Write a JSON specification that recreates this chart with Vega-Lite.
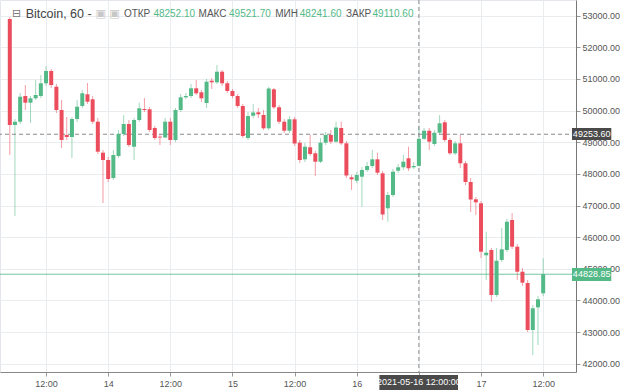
{
  "$schema": "https://vega.github.io/schema/vega-lite/v6.json",
  "width": 576,
  "height": 372,
  "autosize": "none",
  "padding": {"left": 0, "top": 0, "right": 44, "bottom": 18},
  "background": "white",
  "config": {
    "view": {"stroke": "#e3e6ea"},
    "font": "Liberation Sans",
    "axisY": {"tickCount": 12, "format": ".2f", "labelFontSize": 9, "labelColor": "#555", "labelPadding": 2, "labelOverlap": false, "tickSize": 4, "tickColor": "#999", "domainColor": "#777", "grid": true, "gridColor": "#e9edf0", "title": null}
  },
  "data": {"values": [
    {"t":"2021-05-13T05:00:00Z","o":52896,"h":52960,"l":48597,"c":49546},
    {"t":"2021-05-13T06:00:00Z","o":49546,"h":49735,"l":46669,"c":49650},
    {"t":"2021-05-13T07:00:00Z","o":49650,"h":50557,"l":49577,"c":50440},
    {"t":"2021-05-13T08:00:00Z","o":50462,"h":50810,"l":50020,"c":50251},
    {"t":"2021-05-13T09:00:00Z","o":50251,"h":50462,"l":49609,"c":50390},
    {"t":"2021-05-13T10:00:00Z","o":50390,"h":50968,"l":50336,"c":50494},
    {"t":"2021-05-13T11:00:00Z","o":50462,"h":51126,"l":50399,"c":50864},
    {"t":"2021-05-13T12:00:00Z","o":50864,"h":51411,"l":50779,"c":51253},
    {"t":"2021-05-13T13:00:00Z","o":51253,"h":51316,"l":50715,"c":50810},
    {"t":"2021-05-13T14:00:00Z","o":50756,"h":50842,"l":49925,"c":50020},
    {"t":"2021-05-13T15:00:00Z","o":50020,"h":50336,"l":48819,"c":49072},
    {"t":"2021-05-13T16:00:00Z","o":49230,"h":49799,"l":49072,"c":49166},
    {"t":"2021-05-13T17:00:00Z","o":49166,"h":49799,"l":48503,"c":49735},
    {"t":"2021-05-13T18:00:00Z","o":49735,"h":50336,"l":49640,"c":50124},
    {"t":"2021-05-13T19:00:00Z","o":50146,"h":50652,"l":50083,"c":50548},
    {"t":"2021-05-13T20:00:00Z","o":50516,"h":50873,"l":50210,"c":50282},
    {"t":"2021-05-13T21:00:00Z","o":50358,"h":50462,"l":49577,"c":49650},
    {"t":"2021-05-13T22:00:00Z","o":49650,"h":49767,"l":48629,"c":48702},
    {"t":"2021-05-13T23:00:00Z","o":48670,"h":48756,"l":47080,"c":48439},
    {"t":"2021-05-14T00:00:00Z","o":48439,"h":48534,"l":47744,"c":47839},
    {"t":"2021-05-14T01:00:00Z","o":47870,"h":48756,"l":47807,"c":48597},
    {"t":"2021-05-14T02:00:00Z","o":48566,"h":49388,"l":48503,"c":49261},
    {"t":"2021-05-14T03:00:00Z","o":49261,"h":49862,"l":49198,"c":49577},
    {"t":"2021-05-14T04:00:00Z","o":49577,"h":49704,"l":48850,"c":48913},
    {"t":"2021-05-14T05:00:00Z","o":48859,"h":49767,"l":48439,"c":49704},
    {"t":"2021-05-14T06:00:00Z","o":49704,"h":50251,"l":49640,"c":50074},
    {"t":"2021-05-14T07:00:00Z","o":50051,"h":50399,"l":49957,"c":50020},
    {"t":"2021-05-14T08:00:00Z","o":50042,"h":50115,"l":49324,"c":49388},
    {"t":"2021-05-14T09:00:00Z","o":49451,"h":49514,"l":49072,"c":49135},
    {"t":"2021-05-14T10:00:00Z","o":49176,"h":49261,"l":48913,"c":49151},
    {"t":"2021-05-14T11:00:00Z","o":49151,"h":49767,"l":49135,"c":49650},
    {"t":"2021-05-14T12:00:00Z","o":49650,"h":49767,"l":48913,"c":49072},
    {"t":"2021-05-14T13:00:00Z","o":49072,"h":50083,"l":49009,"c":50020},
    {"t":"2021-05-14T14:00:00Z","o":50020,"h":50526,"l":49957,"c":50421},
    {"t":"2021-05-14T15:00:00Z","o":50421,"h":50557,"l":50368,"c":50462},
    {"t":"2021-05-14T16:00:00Z","o":50462,"h":50842,"l":50399,"c":50706},
    {"t":"2021-05-14T17:00:00Z","o":50706,"h":50968,"l":50494,"c":50548},
    {"t":"2021-05-14T18:00:00Z","o":50579,"h":50652,"l":50273,"c":50390},
    {"t":"2021-05-14T19:00:00Z","o":50241,"h":50999,"l":50083,"c":50914},
    {"t":"2021-05-14T20:00:00Z","o":50946,"h":51031,"l":50684,"c":50895},
    {"t":"2021-05-14T21:00:00Z","o":50895,"h":51442,"l":50842,"c":51230},
    {"t":"2021-05-14T22:00:00Z","o":51230,"h":51284,"l":50779,"c":50864},
    {"t":"2021-05-14T23:00:00Z","o":50864,"h":50937,"l":50557,"c":50620},
    {"t":"2021-05-15T00:00:00Z","o":50620,"h":50684,"l":50399,"c":50462},
    {"t":"2021-05-15T01:00:00Z","o":50462,"h":50526,"l":50083,"c":50146},
    {"t":"2021-05-15T02:00:00Z","o":50146,"h":50210,"l":49135,"c":49198},
    {"t":"2021-05-15T03:00:00Z","o":49135,"h":49957,"l":49072,"c":49830},
    {"t":"2021-05-15T04:00:00Z","o":49839,"h":50210,"l":49767,"c":49941},
    {"t":"2021-05-15T05:00:00Z","o":49947,"h":50083,"l":49767,"c":49884},
    {"t":"2021-05-15T06:00:00Z","o":49862,"h":50020,"l":49388,"c":49441},
    {"t":"2021-05-15T07:00:00Z","o":49441,"h":50747,"l":49388,"c":50699},
    {"t":"2021-05-15T08:00:00Z","o":50674,"h":50715,"l":50051,"c":50105},
    {"t":"2021-05-15T09:00:00Z","o":50105,"h":50178,"l":49577,"c":49650},
    {"t":"2021-05-15T10:00:00Z","o":49650,"h":49735,"l":49293,"c":49365},
    {"t":"2021-05-15T11:00:00Z","o":49365,"h":49830,"l":49293,"c":49726},
    {"t":"2021-05-15T12:00:00Z","o":49726,"h":49799,"l":48882,"c":48961},
    {"t":"2021-05-15T13:00:00Z","o":48986,"h":49072,"l":48344,"c":48439},
    {"t":"2021-05-15T14:00:00Z","o":48461,"h":48977,"l":48376,"c":48859},
    {"t":"2021-05-15T15:00:00Z","o":48841,"h":49230,"l":48566,"c":48629},
    {"t":"2021-05-15T16:00:00Z","o":48651,"h":48724,"l":47934,"c":48385},
    {"t":"2021-05-15T17:00:00Z","o":48385,"h":49135,"l":48344,"c":48986},
    {"t":"2021-05-15T18:00:00Z","o":48986,"h":49324,"l":48913,"c":49230},
    {"t":"2021-05-15T19:00:00Z","o":49230,"h":49388,"l":48945,"c":49018},
    {"t":"2021-05-15T20:00:00Z","o":49018,"h":49650,"l":48977,"c":49467},
    {"t":"2021-05-15T21:00:00Z","o":49451,"h":49650,"l":48913,"c":48967},
    {"t":"2021-05-15T22:00:00Z","o":48967,"h":49040,"l":47870,"c":47949},
    {"t":"2021-05-15T23:00:00Z","o":47892,"h":47965,"l":47491,"c":47829},
    {"t":"2021-05-16T00:00:00Z","o":47785,"h":48060,"l":47712,"c":47965},
    {"t":"2021-05-16T01:00:00Z","o":47911,"h":48218,"l":46963,"c":48123},
    {"t":"2021-05-16T02:00:00Z","o":48123,"h":48376,"l":48060,"c":48250},
    {"t":"2021-05-16T03:00:00Z","o":48250,"h":48756,"l":48187,"c":48461},
    {"t":"2021-05-16T04:00:00Z","o":48461,"h":48670,"l":47965,"c":48038},
    {"t":"2021-05-16T05:00:00Z","o":48019,"h":48092,"l":46543,"c":46717},
    {"t":"2021-05-16T06:00:00Z","o":46913,"h":47428,"l":46489,"c":47333},
    {"t":"2021-05-16T07:00:00Z","o":47333,"h":48155,"l":47270,"c":48069},
    {"t":"2021-05-16T08:00:00Z","o":48101,"h":48313,"l":48028,"c":48209},
    {"t":"2021-05-16T09:00:00Z","o":48209,"h":48597,"l":48123,"c":48385},
    {"t":"2021-05-16T10:00:00Z","o":48493,"h":48859,"l":48092,"c":48177},
    {"t":"2021-05-16T11:00:00Z","o":48209,"h":48376,"l":48155,"c":48250},
    {"t":"2021-05-16T12:00:00Z","o":48252.1,"h":49521.7,"l":48241.6,"c":49110.6},
    {"t":"2021-05-16T13:00:00Z","o":49110,"h":49451,"l":49072,"c":49365},
    {"t":"2021-05-16T14:00:00Z","o":49365,"h":49451,"l":48756,"c":49018},
    {"t":"2021-05-16T15:00:00Z","o":48945,"h":49388,"l":48882,"c":49302},
    {"t":"2021-05-16T16:00:00Z","o":49302,"h":49862,"l":49230,"c":49599},
    {"t":"2021-05-16T17:00:00Z","o":49631,"h":49704,"l":49009,"c":49072},
    {"t":"2021-05-16T18:00:00Z","o":49072,"h":49135,"l":48597,"c":48651},
    {"t":"2021-05-16T19:00:00Z","o":48651,"h":49040,"l":48597,"c":48967},
    {"t":"2021-05-16T20:00:00Z","o":48967,"h":49230,"l":48187,"c":48335},
    {"t":"2021-05-16T21:00:00Z","o":48335,"h":48408,"l":47649,"c":47744},
    {"t":"2021-05-16T22:00:00Z","o":47744,"h":47870,"l":46796,"c":47191},
    {"t":"2021-05-16T23:00:00Z","o":47197,"h":47270,"l":46701,"c":47102},
    {"t":"2021-05-17T00:00:00Z","o":47070,"h":47143,"l":45342,"c":45541},
    {"t":"2021-05-17T01:00:00Z","o":45427,"h":46173,"l":44646,"c":45509},
    {"t":"2021-05-17T02:00:00Z","o":45594,"h":45658,"l":43960,"c":44172},
    {"t":"2021-05-17T03:00:00Z","o":44172,"h":45658,"l":44109,"c":45256},
    {"t":"2021-05-17T04:00:00Z","o":45278,"h":46290,"l":45215,"c":45617},
    {"t":"2021-05-17T05:00:00Z","o":45594,"h":46574,"l":45531,"c":46489},
    {"t":"2021-05-17T06:00:00Z","o":46543,"h":46764,"l":45626,"c":45699},
    {"t":"2021-05-17T07:00:00Z","o":45699,"h":45784,"l":44646,"c":44908},
    {"t":"2021-05-17T08:00:00Z","o":44908,"h":45025,"l":44457,"c":44561},
    {"t":"2021-05-17T09:00:00Z","o":44551,"h":44646,"l":43003,"c":43066},
    {"t":"2021-05-17T10:00:00Z","o":43066,"h":43856,"l":42275,"c":43752},
    {"t":"2021-05-17T11:00:00Z","o":43783,"h":44141,"l":42591,"c":44036},
    {"t":"2021-05-17T12:00:00Z","o":44226,"h":45332,"l":44141,"c":44828.85}
  ]},
  "layer": [
    {
      "mark": {"type": "rule", "strokeWidth": 1, "opacity": 0.55},
      "encoding": {
        "x": {"field": "t", "type": "temporal",
              "scale": {"type": "utc", "domain": [1620878673240, 1621272145752]},
              "axis": {"title": null, "orient": "bottom",
                       "values": [1620907200000, 1620950400000, 1620993600000, 1621036800000, 1621080000000, 1621123200000, 1621166400000, 1621209600000, 1621252800000],
                       "labelExpr": "time(datum.value) == 1621166400000 ? '' : (utchours(datum.value) == 0 ? utcFormat(datum.value, '%-d') : '12:00')",
                       "labelFontSize": 9, "labelColor": "#555", "labelPadding": 3, "labelOverlap": false,
                       "tickSize": 4, "tickColor": "#999", "domainColor": "#888",
                       "grid": true, "gridColor": "#e9edf0", "labelFlush": false}},
        "y": {"field": "l", "type": "quantitative",
              "scale": {"domain": [41738, 53497], "nice": false, "zero": false},
              "axis": {"title": null, "orient": "right", "tickCount": 12,
                       "values": [42000, 43000, 44000, 45000, 46000, 47000, 48000, 49000, 50000, 51000, 52000, 53000]}},
        "y2": {"field": "h"},
        "color": {"condition": {"test": "datum.o <= datum.c", "value": "#53b987"}, "value": "#eb4d5c"}
      }
    },
    {
      "data": {"values": [{}]},
      "mark": {"type": "rule", "color": "#8a8a8a", "strokeDash": [4, 3], "strokeWidth": 1},
      "encoding": {"y": {"datum": 49253.6, "type": "quantitative"}}
    },
    {
      "data": {"values": [{}]},
      "mark": {"type": "rule", "color": "#8a8a8a", "strokeDash": [4, 3], "strokeWidth": 1},
      "encoding": {"x": {"datum": 1621166400000, "type": "temporal"}}
    },
    {
      "data": {"values": [{}]},
      "mark": {"type": "rule", "color": "#53b987", "strokeWidth": 1, "opacity": 0.8},
      "encoding": {"y": {"datum": 44828.85, "type": "quantitative"}}
    },
    {
      "mark": {"type": "bar", "size": 4},
      "encoding": {
        "x": {"field": "t", "type": "temporal"},
        "y": {"field": "o", "type": "quantitative"},
        "y2": {"field": "c"},
        "color": {"condition": {"test": "datum.o <= datum.c", "value": "#53b987"}, "value": "#eb4d5c"}
      }
    },
    {
      "data": {"values": [{}]},
      "mark": {"type": "rect", "color": "#4a4a4a"},
      "encoding": {
        "x": {"datum": 1621272828864, "type": "temporal"},
        "x2": {"datum": 1621300153344},
        "y": {"datum": 49451, "type": "quantitative"},
        "y2": {"datum": 49072}
      }
    },
    {
      "data": {"values": [{}]},
      "mark": {"type": "text", "color": "white", "fontSize": 9, "align": "center", "baseline": "middle"},
      "encoding": {
        "x": {"datum": 1621286491104, "type": "temporal"},
        "y": {"datum": 49253.6, "type": "quantitative"},
        "text": {"value": "49253.60"}
      }
    },
    {
      "data": {"values": [{}]},
      "mark": {"type": "rect", "color": "#53b987"},
      "encoding": {
        "x": {"datum": 1621272828864, "type": "temporal"},
        "x2": {"datum": 1621300153344},
        "y": {"datum": 45025, "type": "quantitative"},
        "y2": {"datum": 44614}
      }
    },
    {
      "data": {"values": [{}]},
      "mark": {"type": "text", "color": "white", "fontSize": 9, "align": "center", "baseline": "middle"},
      "encoding": {
        "x": {"datum": 1621286491104, "type": "temporal"},
        "y": {"datum": 44828.85, "type": "quantitative"},
        "text": {"value": "44828.85"}
      }
    },
    {
      "data": {"values": [{}]},
      "mark": {"type": "rect", "color": "#4a4a4a"},
      "encoding": {
        "x": {"datum": 1621138938912, "type": "temporal"},
        "x2": {"datum": 1621193587872},
        "y": {"datum": 41643, "type": "quantitative"},
        "y2": {"datum": 41169}
      }
    },
    {
      "data": {"values": [{}]},
      "mark": {"type": "text", "color": "white", "fontSize": 9, "align": "center", "baseline": "middle"},
      "encoding": {
        "x": {"datum": 1621166400000, "type": "temporal"},
        "y": {"datum": 41422, "type": "quantitative"},
        "text": {"value": "2021-05-16 12:00:00"}
      }
    },
    {
      "data": {"values": [{}]},
      "mark": {"type": "text", "color": "#777", "fontSize": 11, "align": "left", "baseline": "middle", "font": "DejaVu Sans"},
      "encoding": {
        "x": {"datum": 1620883455024, "type": "temporal"},
        "y": {"datum": 53054, "type": "quantitative"},
        "text": {"value": "⊟"}
      }
    },
    {
      "data": {"values": [{}]},
      "mark": {"type": "text", "color": "#444", "fontSize": 12.5, "align": "left", "baseline": "middle"},
      "encoding": {
        "x": {"datum": 1620893018592, "type": "temporal"},
        "y": {"datum": 53054, "type": "quantitative"},
        "text": {"value": "Bitcoin, 60 -"}
      }
    },
    {
      "data": {"values": [{}]},
      "mark": {"type": "text", "color": "#c8c8c8", "fontSize": 11, "align": "left", "baseline": "middle", "font": "DejaVu Sans"},
      "encoding": {
        "x": {"datum": 1620941519544, "type": "temporal"},
        "y": {"datum": 53054, "type": "quantitative"},
        "text": {"value": "▣ ▣"}
      }
    },
    {
      "data": {"values": [{}]},
      "mark": {"type": "text", "color": "#555", "fontSize": 10, "align": "left", "baseline": "middle"},
      "encoding": {
        "x": {"datum": 1620961329792, "type": "temporal"},
        "y": {"datum": 53054, "type": "quantitative"},
        "text": {"value": "ОТКР"}
      }
    },
    {
      "data": {"values": [{}]},
      "mark": {"type": "text", "color": "#53b987", "fontSize": 10, "align": "left", "baseline": "middle"},
      "encoding": {
        "x": {"datum": 1620981822152, "type": "temporal"},
        "y": {"datum": 53054, "type": "quantitative"},
        "text": {"value": "48252.10"}
      }
    },
    {
      "data": {"values": [{}]},
      "mark": {"type": "text", "color": "#555", "fontSize": 10, "align": "left", "baseline": "middle"},
      "encoding": {
        "x": {"datum": 1621013246304, "type": "temporal"},
        "y": {"datum": 53054, "type": "quantitative"},
        "text": {"value": "МАКС"}
      }
    },
    {
      "data": {"values": [{}]},
      "mark": {"type": "text", "color": "#53b987", "fontSize": 10, "align": "left", "baseline": "middle"},
      "encoding": {
        "x": {"datum": 1621034422776, "type": "temporal"},
        "y": {"datum": 53054, "type": "quantitative"},
        "text": {"value": "49521.70"}
      }
    },
    {
      "data": {"values": [{}]},
      "mark": {"type": "text", "color": "#555", "fontSize": 10, "align": "left", "baseline": "middle"},
      "encoding": {
        "x": {"datum": 1621066529040, "type": "temporal"},
        "y": {"datum": 53054, "type": "quantitative"},
        "text": {"value": "МИН"}
      }
    },
    {
      "data": {"values": [{}]},
      "mark": {"type": "text", "color": "#53b987", "fontSize": 10, "align": "left", "baseline": "middle"},
      "encoding": {
        "x": {"datum": 1621083606840, "type": "temporal"},
        "y": {"datum": 53054, "type": "quantitative"},
        "text": {"value": "48241.60"}
      }
    },
    {
      "data": {"values": [{}]},
      "mark": {"type": "text", "color": "#555", "fontSize": 10, "align": "left", "baseline": "middle"},
      "encoding": {
        "x": {"datum": 1621115713104, "type": "temporal"},
        "y": {"datum": 53054, "type": "quantitative"},
        "text": {"value": "ЗАКР"}
      }
    },
    {
      "data": {"values": [{}]},
      "mark": {"type": "text", "color": "#53b987", "fontSize": 10, "align": "left", "baseline": "middle"},
      "encoding": {
        "x": {"datum": 1621134157128, "type": "temporal"},
        "y": {"datum": 53054, "type": "quantitative"},
        "text": {"value": "49110.60"}
      }
    }
  ]
}
